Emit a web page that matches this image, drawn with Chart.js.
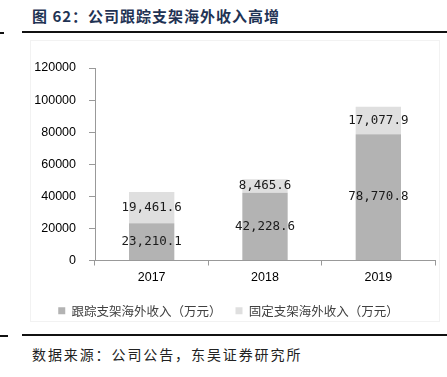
<!DOCTYPE html>
<html>
<head>
<meta charset="utf-8">
<script src="https://cdn.jsdelivr.net/npm/chart.js@4/dist/chart.umd.min.js"></script>
<style>
  body { margin: 0; width: 447px; height: 377px; background: #fff; position: relative; overflow: hidden; }
  #title { position: absolute; left: 32px; top: 5px; font: bold 15px "Noto Sans CJK SC"; letter-spacing: 1px; color: #1f3354; white-space: nowrap; }
  .rule { position: absolute; height: 2px; background: #111; }
  #frame { position: absolute; left: 30px; top: 40px; width: 410px; height: 282px; border: 1px solid #f2f2f2; box-sizing: border-box; }
  #wrap { position: absolute; left: 22px; top: 40px; width: 418px; height: 290px; }
  #source { position: absolute; left: 32px; top: 344px; font: 14px "Noto Sans CJK SC"; letter-spacing: 1.9px; color: #222; white-space: nowrap; }
</style>
</head>
<body>
<div id="title">图 62：公司跟踪支架海外收入高增</div>
<div class="rule" style="left:0;top:32px;width:4px;"></div>
<div class="rule" style="left:22px;top:31px;width:425px;"></div>
<div id="frame"></div>
<div id="wrap"><canvas id="chart"></canvas></div>
<div class="rule" style="left:0;top:335px;width:8px;"></div>
<div class="rule" style="left:22px;top:334px;width:425px;"></div>
<div id="source">数据来源：公司公告，东吴证券研究所</div>

<script>
const years = ["2017", "2018", "2019"];
const trackerRevenue = [23210.1, 42228.6, 78770.8];
const fixedRevenue = [19461.6, 8465.6, 17077.9];
const seriesNames = ["跟踪支架海外收入（万元）", "固定支架海外收入（万元）"];
const yTicks = [0, 20000, 40000, 60000, 80000, 100000, 120000];

// value labels in the middle of each bar segment
const segmentLabels = {
  id: "segmentLabels",
  afterDatasetsDraw(chart) {
    const ctx = chart.ctx;
    ctx.save();
    ctx.font = "12.5px 'DejaVu Sans Mono'";
    ctx.fillStyle = "#1a1a1a";
    ctx.textAlign = "center";
    ctx.textBaseline = "middle";
    chart.data.datasets.forEach((ds, i) => {
      chart.getDatasetMeta(i).data.forEach((bar, j) => {
        const v = ds.data[j];
        const txt = v.toLocaleString("en-US", { minimumFractionDigits: 1, maximumFractionDigits: 1 });
        ctx.fillText(txt, bar.x, (bar.y + bar.base) / 2);
      });
    });
    ctx.restore();
  }
};

new Chart(document.getElementById("chart"), {
  type: "bar",
  data: {
    labels: years,
    datasets: [
      { label: seriesNames[0], data: trackerRevenue, backgroundColor: "#b3b3b3" },
      { label: seriesNames[1], data: fixedRevenue, backgroundColor: "#dfdfdf" }
    ]
  },
  options: {
    responsive: true,
    maintainAspectRatio: false,
    animation: false,
    datasets: { bar: { categoryPercentage: 1, barPercentage: 0.4 } },
    layout: { padding: { top: 28, right: 5, left: 0, bottom: 3 } },
    plugins: {
      tooltip: { enabled: false },
      legend: {
        position: "bottom",
        labels: {
          boxWidth: 7,
          boxHeight: 7,
          padding: 14,
          color: "#404040",
          font: { family: "Noto Sans CJK SC", size: 12.5 }
        }
      }
    },
    scales: {
      x: {
        stacked: true,
        grid: { drawOnChartArea: false, drawTicks: true, tickLength: 5, color: "#999" },
        border: { color: "#999" },
        ticks: { color: "#000", padding: 5, font: { family: "Liberation Sans", size: 12.5 } },
        afterFit(scale) { scale.height = 30; }
      },
      y: {
        stacked: true,
        min: 0,
        max: 120000,
        afterBuildTicks(scale) { scale.ticks = yTicks.map(v => ({ value: v })); },
        grid: { drawOnChartArea: false, drawTicks: true, tickLength: 6, color: "#999" },
        border: { color: "#999" },
        ticks: {
          color: "#000",
          padding: 13,
          font: { family: "Liberation Sans", size: 12.5 },
          callback: v => String(v)
        },
        afterFit(scale) { scale.width = 73; }
      }
    }
  },
  plugins: [segmentLabels]
});
</script>
</body>
</html>
